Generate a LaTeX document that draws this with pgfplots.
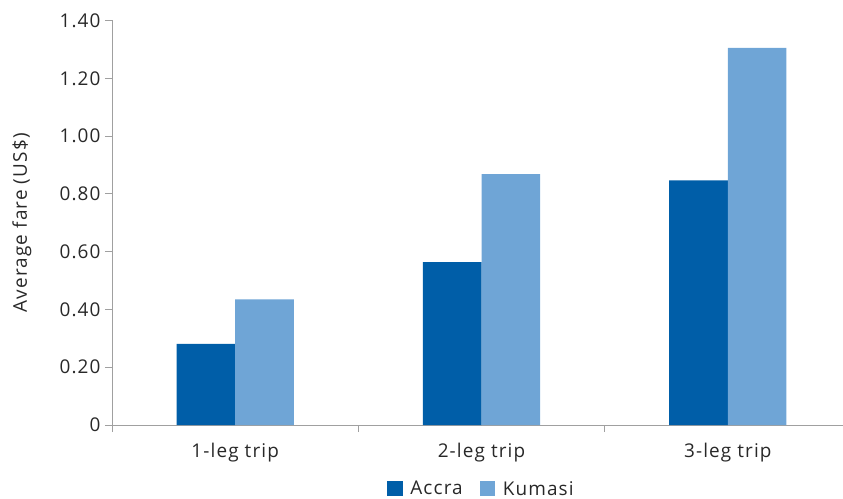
\documentclass[border=0pt]{standalone}
\usepackage{pgfplots}
\pgfplotsset{compat=1.18}
\usepackage{fontspec}
\setmainfont[LetterSpace=6]{Open Sans}
\definecolor{accra}{RGB}{0,94,168}
\definecolor{kumasi}{RGB}{111,165,214}
\definecolor{txt}{RGB}{40,40,40}
\definecolor{axgray}{RGB}{160,160,160}
\begin{document}
\begin{tikzpicture}
\useasboundingbox (-112bp,-74bp) rectangle (731bp,425bp);
\begin{axis}[
  scale only axis,
  width=739bp, height=404.5bp,
  at={(0,0)}, anchor=south west,
  ybar=0pt, bar width=0.238,
  xmin=-0.5, xmax=2.5,
  ymin=0, ymax=1.4,
  axis lines*=left,
  axis line style={axgray, line width=0.8pt},
  xtick={0,1,2},
  xticklabels={1-leg trip,2-leg trip,3-leg trip},
  minor xtick={-0.5,0.5,1.5,2.5},
  x tick style={draw=none},
  minor x tick style={draw=axgray, line width=0.8pt},
  ytick={0,0.2,0.4,0.6,0.8,1.0,1.2,1.4},
  yticklabels={0,0.20,0.40,0.60,0.80,1.00,1.20,1.40},
  y tick style={axgray, line width=0.8pt},
  tick align=outside,
  major tick length=7bp, minor tick length=7bp,
  tick label style={font=\fontsize{19}{21}\selectfont, text=txt},
  xticklabel style={yshift=-8bp},
  yticklabel style={xshift=-1bp},
  ylabel={Average fare (US\$)},
  ylabel style={font=\fontsize{19}{21}\selectfont, text=txt,
    at={(axis description cs:-0.122,0.5)}, anchor=center, rotate=0},
  legend style={at={(0.5,-0.158)}, anchor=center, draw=none, legend columns=2,
    font=\fontsize{19}{21}\selectfont, text=txt,
    /tikz/every even column/.append style={column sep=15bp}},
  legend image code/.code={\fill[#1] (0bp,-7.5bp) rectangle (15.5bp,7.5bp); \path (21bp,0bp);},
]
\addplot[fill=accra, draw=none] coordinates {(0,0.281) (1,0.564) (2,0.847)};
\addplot[fill=kumasi, draw=none] coordinates {(0,0.435) (1,0.868) (2,1.305)};
\legend{Accra,Kumasi}
\end{axis}
\end{tikzpicture}
\end{document}
